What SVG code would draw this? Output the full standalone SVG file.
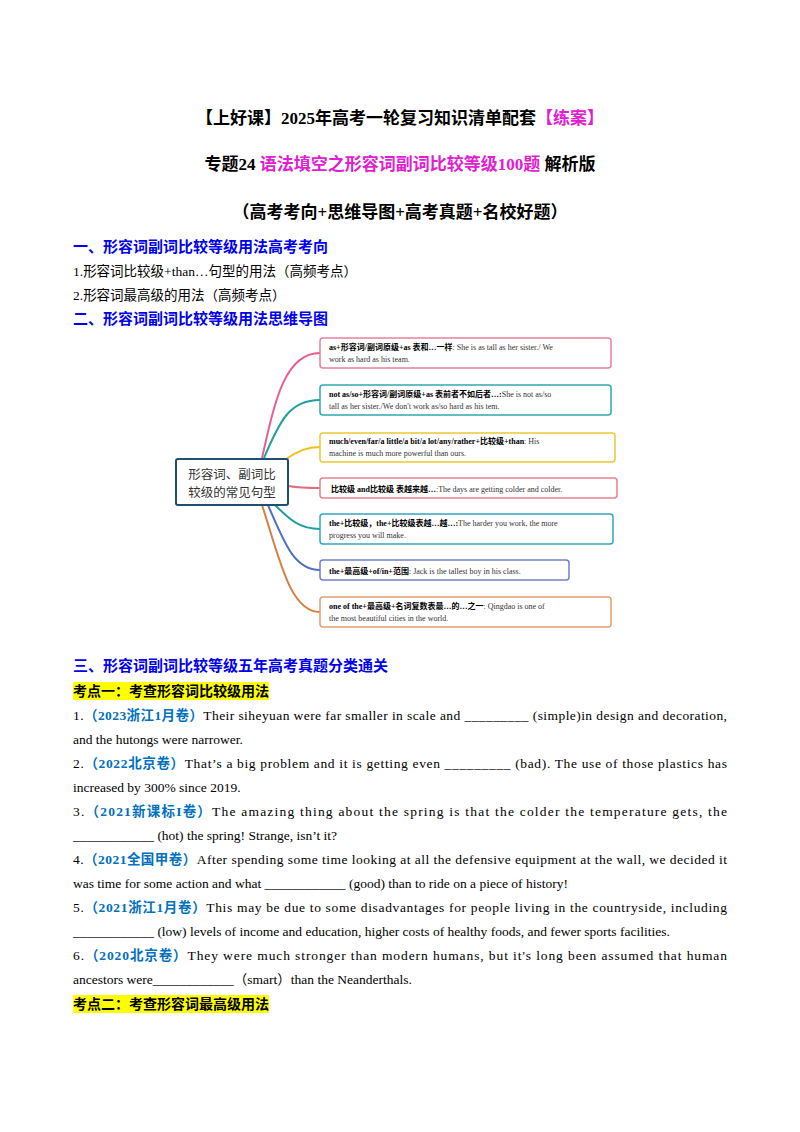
<svg xmlns="http://www.w3.org/2000/svg" width="800" height="1132" viewBox="0 0 800 1132">
<style>
text{font-family:"Liberation Serif","Noto Sans CJK SC",serif;fill:#000}
.t{font-size:17px;font-weight:bold}
.h{font-size:15px;font-weight:bold;fill:#0000ee;font-family:"Noto Sans CJK SC",sans-serif}
.b{font-size:13.5px}
.s{font-size:13.5px;fill:#0070c0;font-weight:bold}
.k{font-size:14px;font-weight:bold;font-family:"Noto Sans CJK SC",sans-serif}
.m{font-size:8px;fill:#333}
.mb{font-weight:bold;fill:#000}
.box{fill:#fff;stroke-width:1.5}
.c{fill:none;stroke-width:2}
</style>
<rect width="800" height="1132" fill="#fff"/>
<text class="t" x="400" y="124" text-anchor="middle">【上好课】2025年高考一轮复习知识清单配套<tspan fill="#e020d0">【练案】</tspan></text>
<text class="t" x="400" y="170" text-anchor="middle">专题24 <tspan fill="#e020d0">语法填空之形容词副词比较等级100题</tspan> 解析版</text>
<text class="t" x="400" y="218" text-anchor="middle">（高考考向+思维导图+高考真题+名校好题）</text>
<text class="h" x="73" y="252">一、形容词副词比较等级用法高考考向</text>
<text class="b" x="73" y="276">1.形容词比较级+than…句型的用法（高频考点）</text>
<text class="b" x="73" y="300">2.形容词最高级的用法（高频考点）</text>
<text class="h" x="73" y="324">二、形容词副词比较等级用法思维导图</text>
<g id="connectors">
<path class="c" stroke="#e8608a" d="M262,458 C275,400 285,353 320,353"/>
<path class="c" stroke="#20a0a0" d="M264,458 C280,420 290,400 320,400"/>
<path class="c" stroke="#f0c020" d="M285,460 C295,452 305,447 320,447"/>
<path class="c" stroke="#e07080" d="M288,486 C300,488 310,488 320,488"/>
<path class="c" stroke="#20a0a0" d="M275,505 C290,520 300,529 320,529"/>
<path class="c" stroke="#5070c0" d="M268,505 C285,545 295,570 320,570"/>
<path class="c" stroke="#d08040" d="M262,505 C280,560 290,612 320,612"/>
</g>
<g id="center"><rect x="176" y="459" width="112" height="46" rx="2" fill="#fff" stroke="#1f4e6e" stroke-width="2"/>
<text x="232" y="479" text-anchor="middle" style="font-family:'Noto Sans CJK SC',sans-serif;font-size:12.5px;fill:#333">形容词、副词比</text>
<text x="232" y="497" text-anchor="middle" style="font-family:'Noto Sans CJK SC',sans-serif;font-size:12.5px;fill:#333">较级的常见句型</text></g>
<g id="n1"><rect class="box" x="320" y="338" width="291" height="30" rx="3" stroke="#e8809a"/>
<text class="m" x="329" y="350"><tspan class="mb">as+形容词/副词原级+as 表和…一样</tspan>: She is as tall as her sister./ We</text>
<text class="m" x="329" y="362">work as hard as    his team.</text></g>
<g id="n2"><rect class="box" x="320" y="385" width="291" height="30" rx="3" stroke="#30a8b0"/>
<text class="m" x="329" y="397"><tspan class="mb">not as/so+形容词/副词原级+as 表前者不如后者…:</tspan>She is not as/so</text>
<text class="m" x="329" y="409">tall as her sister./We don't work as/so hard as his tem.</text></g>
<g id="n3"><rect class="box" x="320" y="433" width="295" height="29" rx="3" stroke="#f0c830"/>
<text class="m" x="329" y="444"><tspan class="mb">much/even/far/a little/a bit/a lot/any/rather+比较级+than</tspan>:  His</text>
<text class="m" x="329" y="456">machine is much more powerful than ours.</text></g>
<g id="n4"><rect class="box" x="320" y="478" width="297" height="20" rx="3" stroke="#e88090"/>
<text class="m" x="331" y="492"><tspan class="mb">比较级  and比较级  表越来越…</tspan>:The days are getting colder and colder.</text></g>
<g id="n5"><rect class="box" x="320" y="514" width="293" height="30" rx="3" stroke="#30a8c0"/>
<text class="m" x="329" y="526"><tspan class="mb">the+比较级，the+比较级表越…越…:</tspan>The harder you work, the more</text>
<text class="m" x="329" y="538">progress you will make.</text></g>
<g id="n6"><rect class="box" x="320" y="560" width="249" height="20" rx="3" stroke="#7080c8"/>
<text class="m" x="329" y="574"><tspan class="mb">the+最高级+of/in+范围</tspan>:  Jack is the tallest boy in his class.</text></g>
<g id="n7"><rect class="box" x="320" y="597" width="291" height="30" rx="3" stroke="#e0a070"/>
<text class="m" x="329" y="609"><tspan class="mb">one of the+最高级+名词复数表最…的…之一</tspan>:  Qingdao is one of</text>
<text class="m" x="329" y="621">the most beautiful cities in the world.</text></g>
<text class="h" x="73" y="671">三、形容词副词比较等级五年高考真题分类通关</text>
<rect x="73" y="682" width="196" height="18" fill="#ffff00"/>
<text class="k" x="73" y="696">考点一：考查形容词比较级用法</text>
<text class="b" x="73" y="720" textLength="654" lengthAdjust="spacing">1.<tspan class="s">（2023浙江1月卷）</tspan>Their siheyuan were far smaller in scale and _________  (simple)in design and decoration,</text>
<text class="b" x="73" y="744">and the hutongs were narrower.</text>
<text class="b" x="73" y="768" textLength="654" lengthAdjust="spacing">2.<tspan class="s">（2022北京卷）</tspan>That’s a big problem and it is getting even  _________  (bad). The use of those plastics has</text>
<text class="b" x="73" y="792">increased  by 300% since 2019.</text>
<text class="b" x="73" y="816" textLength="654" lengthAdjust="spacing">3.<tspan class="s">（2021新课标I卷）</tspan>The amazing thing about the spring is that the colder the temperature gets, the</text>
<text class="b" x="73" y="840">____________ (hot) the spring! Strange, isn’t it?</text>
<text class="b" x="73" y="864" textLength="654" lengthAdjust="spacing">4.<tspan class="s">（2021全国甲卷）</tspan>After spending some time looking at all the defensive equipment at the wall, we decided it</text>
<text class="b" x="73" y="888">was time for some action and what ____________ (good) than to ride on a piece of history!</text>
<text class="b" x="73" y="912" textLength="654" lengthAdjust="spacing">5.<tspan class="s">（2021浙江1月卷）</tspan>This may be due to some disadvantages for people living in the countryside, including</text>
<text class="b" x="73" y="936">____________ (low) levels of income and education, higher costs of healthy foods, and fewer sports facilities.</text>
<text class="b" x="73" y="960" textLength="654" lengthAdjust="spacing">6.<tspan class="s">（2020北京卷）</tspan>They were much stronger than modern humans, but it's long been assumed that human</text>
<text class="b" x="73" y="984">ancestors were____________（smart）than the Neanderthals.</text>
<rect x="73" y="995" width="196" height="18" fill="#ffff00"/>
<text class="k" x="73" y="1009">考点二：考查形容词最高级用法</text>
</svg>
